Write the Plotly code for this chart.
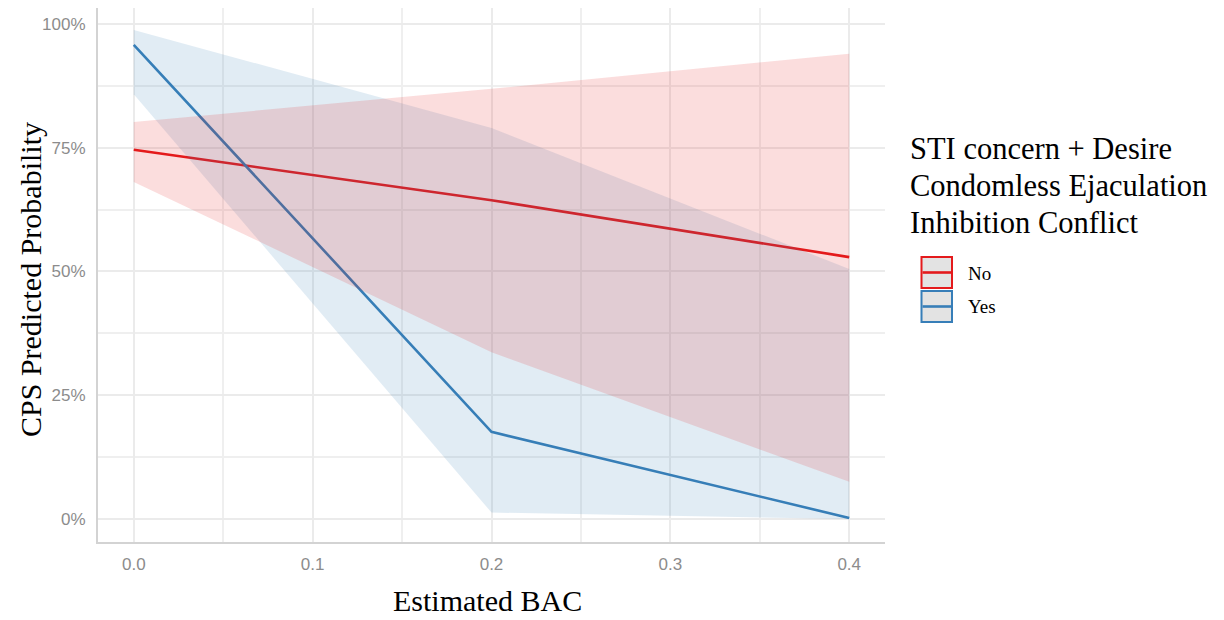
import plotly.graph_objects as go

# ---- data ----
bac = [0.0, 0.2, 0.4]
no_fit = [0.746, 0.644, 0.529]
no_lo = [0.681, 0.337, 0.075]
no_hi = [0.802, 0.869, 0.940]
yes_fit = [0.958, 0.176, 0.002]
yes_lo = [0.858, 0.013, 0.000]
yes_hi = [0.988, 0.790, 0.505]

groups = ["No", "Yes"]
line_colors = {"No": "#E41A1C", "Yes": "#377EB8"}
fill_colors = {"No": "rgba(228,26,28,0.15)", "Yes": "rgba(55,126,184,0.15)"}
y_tickvals = [0, 0.25, 0.5, 0.75, 1.0]
x_tickvals = [0.0, 0.1, 0.2, 0.3, 0.4]

legend_title_lines = ["STI concern + Desire", "Condomless Ejaculation", "Inhibition Conflict"]

series = {
    "No": (no_fit, no_lo, no_hi),
    "Yes": (yes_fit, yes_lo, yes_hi),
}

W, H = 1224, 620
L, R, T, B = 98, 885, 8, 542  # plot area in pixels

SERIF = "Liberation Serif, Times New Roman, Times, serif"
SANS = "Liberation Sans, Arial, Helvetica, sans-serif"

fig = go.Figure()

# lines first
for g in groups:
    fit, lo, hi = series[g]
    fig.add_trace(go.Scatter(x=bac, y=fit, mode="lines",
                             line=dict(color=line_colors[g], width=2.6),
                             showlegend=False, hoverinfo="skip"))

# ribbons on top (blue, then red)
for g in ["Yes", "No"]:
    fit, lo, hi = series[g]
    fig.add_trace(go.Scatter(x=bac + bac[::-1], y=hi + lo[::-1], mode="lines",
                             fill="toself", fillcolor=fill_colors[g],
                             line=dict(width=0, color="rgba(0,0,0,0)"),
                             showlegend=False, hoverinfo="skip"))


def px_x(p):
    return (p - L) / (R - L)


def px_y(p):
    return (B - p) / (B - T)


annotations = []
# axis titles
annotations.append(dict(text="Estimated BAC", x=px_x(487), y=px_y(600), xref="paper", yref="paper",
                        showarrow=False, xanchor="center", yanchor="middle",
                        font=dict(family=SERIF, size=30, color="black")))
annotations.append(dict(text="CPS Predicted Probability", x=px_x(30), y=px_y(280), xref="paper", yref="paper",
                        showarrow=False, xanchor="center", yanchor="middle", textangle=-90,
                        font=dict(family=SERIF, size=30, color="black")))

# legend title
for i, (txt, yc) in enumerate(zip(legend_title_lines, [149, 186, 223])):
    annotations.append(dict(text=txt, x=px_x(908), y=px_y(yc), xref="paper", yref="paper",
                            showarrow=False, xanchor="left", yanchor="middle",
                            font=dict(family=SERIF, size=30.5, color="black")))

shapes = []
key_tops = {"No": 257, "Yes": 291}
for g in groups:
    t = key_tops[g]
    shapes.append(dict(type="rect", xref="paper", yref="paper",
                       x0=px_x(921.5), x1=px_x(952), y0=px_y(t), y1=px_y(t + 31),
                       fillcolor="#E3E3E3", line=dict(color=line_colors[g], width=2)))
    shapes.append(dict(type="line", xref="paper", yref="paper",
                       x0=px_x(922.5), x1=px_x(951), y0=px_y(t + 15.5), y1=px_y(t + 15.5),
                       line=dict(color=line_colors[g], width=2.6)))
    annotations.append(dict(text=g, x=px_x(966), y=px_y(t + 16), xref="paper", yref="paper",
                            showarrow=False, xanchor="left", yanchor="middle",
                            font=dict(family=SERIF, size=19, color="black")))

GRID = "#EBEBEB"
fig.update_layout(
    width=W, height=H,
    margin=dict(l=L, r=W - R, t=T, b=H - B, pad=0),
    paper_bgcolor="white", plot_bgcolor="white",
    showlegend=False,
    annotations=annotations,
    shapes=shapes,
    xaxis=dict(range=[-0.02, 0.42], tickvals=x_tickvals, tickformat=".1f",
               showgrid=True, gridcolor=GRID, gridwidth=1.8,
               minor=dict(dtick=0.05, tick0=0, showgrid=True, gridcolor="#EFEFEF", gridwidth=1.6),
               zeroline=False, showline=True, linecolor="#D3D3D3", linewidth=2,
               ticks="outside", ticklen=6, tickcolor="rgba(0,0,0,0)",
               tickfont=dict(family=SANS, size=17, color="#8C8C8C")),
    yaxis=dict(range=[-0.0465, 1.0323], tickvals=y_tickvals, tickformat=".0%",
               showgrid=True, gridcolor=GRID, gridwidth=1.8,
               minor=dict(dtick=0.125, tick0=0, showgrid=True, gridcolor="#EFEFEF", gridwidth=1.6),
               zeroline=False, showline=True, linecolor="#D3D3D3", linewidth=2,
               ticks="outside", ticklen=7, tickcolor="rgba(0,0,0,0)",
               tickfont=dict(family=SANS, size=17, color="#8C8C8C")),
)

fig.write_html("out.html")
